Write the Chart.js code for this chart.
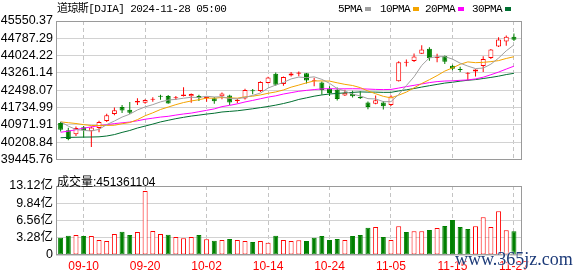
<!DOCTYPE html>
<html>
<head>
<meta charset="utf-8">
<script src="https://cdn.jsdelivr.net/npm/chart.js@4.4.1/dist/chart.umd.min.js"></script>
<style>
    body { margin: 0; background: #fff; width: 578px; height: 276px; position: relative; overflow: hidden; }
    canvas { position: absolute; left: 0; }
    #kline { top: 0; }
    #vol { top: 170px; }
    .txt { position: absolute; white-space: nowrap; color: #000; }
    .mono { font: 11px "Liberation Mono", "Noto Sans CJK SC", monospace; letter-spacing: -0.6px; line-height: 12px; }
    .sw { position: absolute; width: 6px; height: 4px; }
    #mark { position: absolute; left: 455px; top: 249px; font: 18px "Liberation Serif", serif; color: #1c3a78;
            text-shadow: 0 0 2px #fff, 0 0 2px #fff; }
</style>
</head>
<body>
<canvas id="kline" width="578" height="170"></canvas>
<canvas id="vol" width="578" height="106"></canvas>

<div class="txt mono" style="left:57px; top:3px;">道琼斯[DJIA] 2024-11-28 05:00</div>
<div class="txt mono" style="left:338px; top:3px;">5PMA</div>
<div class="sw" style="left:365px; top:7px; background:#a0a0a0;"></div>
<div class="txt mono" style="left:380px; top:3px;">10PMA</div>
<div class="sw" style="left:413px; top:7px; background:#f4a400;"></div>
<div class="txt mono" style="left:425px; top:3px;">20PMA</div>
<div class="sw" style="left:458px; top:7px; background:#ff00ff;"></div>
<div class="txt mono" style="left:472px; top:3px;">30PMA</div>
<div class="sw" style="left:505px; top:7px; background:#006f31;"></div>
<div class="txt" id="volTitle" style="left:57px; top:172px; font:12px 'Liberation Sans','Noto Sans CJK SC',sans-serif;"></div>
<div id="mark">www.365jz.com</div>

<script>
// trading days shown
const dates = ['09-05','09-06','09-09','09-10','09-11','09-12','09-13','09-16','09-17','09-18',
    '09-19','09-20','09-23','09-24','09-25','09-26','09-27','09-30','10-01','10-02',
    '10-03','10-04','10-07','10-08','10-09','10-10','10-11','10-14','10-15','10-16',
    '10-17','10-18','10-21','10-22','10-23','10-24','10-25','10-28','10-29','10-30',
    '10-31','11-01','11-04','11-05','11-06','11-07','11-08','11-11','11-12','11-13',
    '11-14','11-15','11-18','11-19','11-20','11-21','11-22','11-25','11-26','11-27'];

const open = [41050,40730,40560,40870,40690,40830,41140,41450,41760,41640,
    41960,41950,42080,42230,42240,42140,42240,42230,42250,42150,
    42150,42230,42270,42020,42130,42500,42460,42820,43230,42770,
    43150,43230,43250,42900,42840,42560,42520,42270,42330,42200,
    41960,41900,41960,41850,42900,43710,43790,44110,44330,43920,
    44010,43580,43420,43220,43330,43570,43920,44430,44650,44858];
const high = [41100,40845,40900,40920,40900,41150,41460,41735,41850,41981,
    42150,42100,42190,42300,42290,42250,42628,42350,42300,42220,
    42200,42400,42300,42120,42560,42550,42900,43090,43277,43100,
    43300,43325,43260,43050,42880,42670,42620,42520,42480,42450,
    42000,42270,42020,42280,43780,43850,44120,44486,44390,44110,
    44030,43620,43530,43290,43420,44000,44320,44830,44915,45000];
const low = [40680,40290,40480,40400,39994,40650,41100,41400,41490,41450,
    41850,41900,41990,42080,41900,42070,42220,41950,42020,41990,
    41900,42100,41850,41920,42090,42320,42420,42800,42700,42700,
    43100,43120,42800,42670,42300,42250,42050,42240,42180,42110,
    41660,41880,41650,41800,42880,43550,43740,44100,43800,43730,
    43650,43380,43300,42930,43100,43300,43880,44400,44460,44670];
const close = [40756,40345,40830,40736,40861,41097,41394,41622,41606,41503,
    42025,42063,42125,42208,41915,42175,42313,42330,42156,42197,
    42012,42353,41954,42080,42512,42454,42864,43065,42740,43077,
    43239,43276,42932,42925,42514,42374,42114,42387,42233,42142,
    41763,42052,41795,42222,43730,43729,43989,44293,43911,43958,
    43751,43445,43390,43269,43408,43870,44297,44737,44861,44722];
const prevClose = 40975;

const ma5 = [41113,40915,40769,40728,40706,40774,40984,41142,41316,41444,
    41630,41764,41864,41985,42067,42097,42147,42188,42178,42234,
    42202,42210,42134,42119,42182,42271,42373,42595,42727,42840,
    42997,43079,43053,43090,42977,42804,42572,42463,42324,42250,
    42128,42115,41997,41995,42312,42706,43093,43593,43930,43976,
    43980,43872,43691,43563,43453,43476,43647,43916,44235,44497];
const ma10 = [41104,41067,41032,40982,40943,40944,40949,40955,41022,41075,
    41202,41374,41503,41650,41756,41864,41956,42026,42081,42151,
    42149,42178,42161,42149,42208,42236,42291,42365,42423,42511,
    42634,42726,42824,42908,42909,42901,42826,42758,42707,42614,
    42466,42344,42230,42160,42281,42417,42604,42795,42963,43144,
    43343,43482,43642,43747,43714,43728,43759,43804,43899,43975];
const ma20 = [40648,40693,40759,40828,40883,40938,40979,41027,41063,41096,
    41153,41220,41268,41316,41349,41404,41452,41491,41552,41613,
    41676,41776,41832,41899,41982,42050,42123,42196,42252,42331,
    42392,42452,42493,42528,42558,42568,42558,42561,42565,42562,
    42550,42535,42527,42534,42595,42659,42715,42776,42835,42879,
    42905,42913,42936,42953,42998,43073,43182,43299,43431,43560];
const ma30 = [40405,40419,40427,40433,40437,40446,40481,40544,40640,40724,
    40833,40920,41007,41102,41174,41246,41305,41360,41402,41448,
    41485,41540,41566,41594,41636,41681,41732,41782,41842,41912,
    41995,42093,42163,42236,42291,42333,42357,42383,42404,42425,
    42416,42416,42405,42406,42466,42518,42574,42639,42698,42756,
    42814,42851,42899,42938,42968,43015,43063,43119,43189,43244];

// volume in 亿 shares
const volume = [3.26,3.64,3.80,3.61,3.61,2.85,2.66,3.99,4.40,3.80,
    4.37,12.16,4.56,3.99,3.83,3.42,3.20,3.42,3.80,3.01,
    2.69,2.85,3.04,2.85,2.66,2.47,2.66,2.34,3.64,2.85,
    2.66,2.79,2.66,3.29,3.61,2.85,3.04,2.85,3.61,3.80,
    5.19,5.32,3.42,2.85,5.45,4.37,4.50,4.50,4.75,5.13,
    5.51,6.65,5.32,4.94,5.45,7.16,5.32,8.30,4.69,4.51361104];

const priceTicks = [39445.76, 40208.84, 40971.91, 41734.99, 42498.07, 43261.14, 44024.22, 44787.29, 45550.37];
const volTicks = [0, 3.28, 6.56, 9.84, 13.12];
const dateTicks = [3, 11, 19, 27, 35, 43, 51, 59];

const RED = '#ff0000';
const GREEN = '#008000';

const idx = dates.map((d, i) => i);
const up = idx.map(i => close[i] >= open[i]);
const volUp = idx.map(i => close[i] >= (i ? close[i - 1] : prevClose));

document.getElementById('volTitle').textContent = '成交量:' + Math.round(volume[volume.length - 1] * 1e8);

Chart.defaults.font.family = "'Liberation Sans', 'Noto Sans CJK SC', sans-serif";
Chart.defaults.color = '#000';

const boxPlugin = {
    id: 'box',
    afterDraw(chart) {
        const { ctx, chartArea: a } = chart;
        ctx.save();
        ctx.strokeStyle = '#9a9a9a';
        ctx.lineWidth = 1;
        ctx.strokeRect(Math.round(a.left) + 0.5, Math.round(a.top) + 0.5,
            Math.round(a.right - a.left) - 1, Math.round(a.bottom - a.top) - 1);
        ctx.restore();
    }
};

function xScale(showLabels) {
    return {
        type: 'linear',
        offset: false,
        min: -0.6,
        max: 60.05,
        afterBuildTicks: s => { s.ticks = dateTicks.map(v => ({ value: v })); },
        afterFit: s => { s.height = showLabels ? 21 : 0; },
        grid: { color: '#c4c4c4', drawTicks: false, offset: false },
        border: { display: false, dash: [4, 3] },
        ticks: {
            display: showLabels,
            autoSkip: false,
            maxRotation: 0,
            padding: 4,
            color: RED,
            font: { size: 12 },
            callback: v => dates[v]
        }
    };
}

function yScale(ticks, fmt) {
    return {
        min: ticks[0],
        max: ticks[ticks.length - 1],
        afterBuildTicks: s => { s.ticks = ticks.map(v => ({ value: v })); },
        afterFit: s => { s.width = 56; },
        grid: { color: '#d2d2d2', drawTicks: false },
        border: { display: false },
        ticks: { autoSkip: false, padding: 3, font: { size: 12.5 }, callback: fmt }
    };
}

function lineSet(values, color) {
    return {
        type: 'line',
        data: values.map((v, i) => ({ x: i, y: v })),
        borderColor: color,
        borderWidth: 1,
        pointRadius: 0,
        tension: 0,
        order: 1
    };
}

new Chart(document.getElementById('kline'), {
    type: 'bar',
    data: {
        datasets: [
            {
                // wicks
                data: idx.map(i => ({ x: i, y: [low[i], high[i]] })),
                backgroundColor: idx.map(i => up[i] ? RED : GREEN),
                borderWidth: 0,
                barThickness: 1,
                inflateAmount: 0,
                grouped: false,
                order: 3
            },
            {
                // bodies
                data: idx.map(i => ({ x: i, y: [open[i], close[i]] })),
                backgroundColor: idx.map(i => up[i] ? '#ffffff' : GREEN),
                borderColor: idx.map(i => up[i] ? RED : GREEN),
                borderWidth: 1,
                borderSkipped: false,
                barThickness: 5,
                minBarLength: 1,
                inflateAmount: 0,
                grouped: false,
                order: 2
            },
            lineSet(ma5, '#a0a0a0'),
            lineSet(ma10, '#f4a400'),
            lineSet(ma20, '#ff00ff'),
            lineSet(ma30, '#006f31')
        ]
    },
    options: {
        responsive: false,
        animation: false,
        events: [],
        layout: { padding: { top: 21, right: 56, bottom: 5, left: 0 } },
        plugins: { legend: { display: false }, tooltip: { enabled: false } },
        scales: {
            x: xScale(false),
            y: yScale(priceTicks, v => v.toFixed(2))
        }
    },
    plugins: [boxPlugin]
});

new Chart(document.getElementById('vol'), {
    type: 'bar',
    data: {
        datasets: [{
            data: idx.map(i => ({ x: i, y: volume[i] })),
            backgroundColor: idx.map(i => volUp[i] ? '#ffffff' : GREEN),
            borderColor: idx.map(i => volUp[i] ? RED : GREEN),
            borderWidth: 1,
            borderSkipped: false,
            barThickness: 5,
            inflateAmount: 0,
            grouped: false
        }]
    },
    options: {
        responsive: false,
        animation: false,
        events: [],
        layout: { padding: { top: 16, right: 56, bottom: 0, left: 0 } },
        plugins: { legend: { display: false }, tooltip: { enabled: false } },
        scales: {
            x: xScale(true),
            y: yScale(volTicks, v => v === 0 ? '0' : v.toFixed(2) + '亿')
        }
    },
    plugins: [boxPlugin]
});
</script>
</body>
</html>
